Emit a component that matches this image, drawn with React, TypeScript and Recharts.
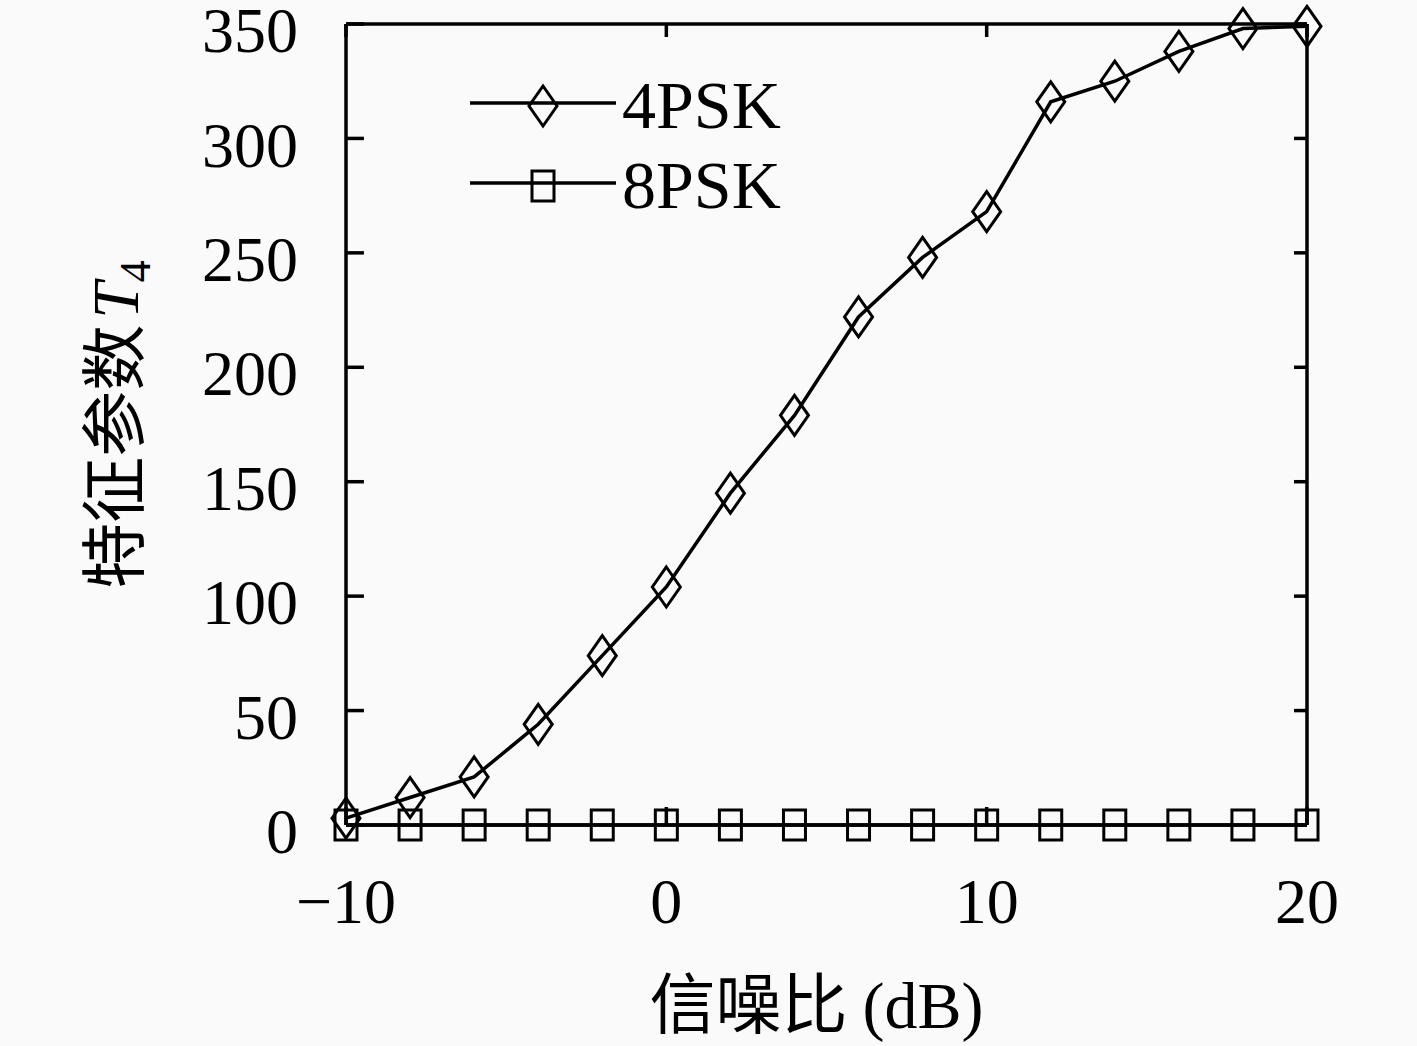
import React from 'react';
import { LineChart, Line, XAxis, YAxis, Legend, Label, ReferenceLine } from 'recharts';

const snrDb = [-10, -8, -6, -4, -2, 0, 2, 4, 6, 8, 10, 12, 14, 16, 18, 20];
const psk4Values = [3, 12, 21, 44, 74, 104, 145, 179, 222, 248, 268, 316, 325, 338, 348, 349];
const psk8Values = [0, 0, 0, 0, 0, 0, 0, 0, 0, 0, 0, 0, 0, 0, 0, 0];
const xTicks = [-10, 0, 10, 20];
const yTicks = [0, 50, 100, 150, 200, 250, 300, 350];
const seriesNames = ['4PSK', '8PSK'];

const data = snrDb.map((snr, i) => ({ snr, psk4: psk4Values[i], psk8: psk8Values[i] }));

const FONT = '"Liberation Serif", "Noto Sans CJK SC", serif';
const CJK = '"Noto Sans CJK SC", "Liberation Serif", serif';
const INK = '#000';
const SW = 3.5;
const X_MIN = -10;
const LEFT_TICK_DB = 0.56; // inward tick length on the left frame, in dB

const diamondPath = (cx: number, cy: number) =>
  `M${cx},${cy - 20} L${cx + 14},${cy} L${cx},${cy + 20} L${cx - 14},${cy} Z`;
const squarePath = (cx: number, cy: number) =>
  `M${cx - 11},${cy - 15} L${cx + 11},${cy - 15} L${cx + 11},${cy + 15} L${cx - 11},${cy + 15} Z`;

const DiamondDot = (props: any) => {
  const { cx, cy, index } = props;
  if (cx == null || cy == null) return <g key={`dd-${index}`} />;
  return <path key={`dd-${index}`} d={diamondPath(cx, cy)} fill="none" stroke={INK} strokeWidth={3} />;
};

const SquareDot = (props: any) => {
  const { cx, cy, index } = props;
  if (cx == null || cy == null) return <g key={`sd-${index}`} />;
  return <path key={`sd-${index}`} d={squarePath(cx, cy)} fill="none" stroke={INK} strokeWidth={3} />;
};

// tick lines only, no label
const NoLabel = () => <g />;

const LeftTick = (props: any) => (
  <text x={props.x} y={props.y} dy="0.44em" textAnchor="end" fontFamily={FONT} fontSize={64} fill={INK}>
    {props.payload.value}
  </text>
);

const LegendBox = () => (
  <svg width={400} height={170} style={{ display: 'block', overflow: 'visible' }}>
    {seriesNames.map((name, i) => {
      const y = 31 + i * 80;
      return (
        <g key={name}>
          <line x1={0} x2={146} y1={y} y2={y} stroke={INK} strokeWidth={SW} />
          <path d={i === 0 ? diamondPath(73, y + 3) : squarePath(73, y + 3)} fill="none" stroke={INK} strokeWidth={3} />
          <text x={152} y={y + 25} fontFamily={FONT} fontSize={68} fill={INK}>
            {name}
          </text>
        </g>
      );
    })}
  </svg>
);

const XTitle = (props: any) => {
  const vb = props.viewBox || { x: 346, y: 825, width: 960 };
  return (
    <text x={vb.x + vb.width / 2 - 10} y={vb.y + 203} textAnchor="middle" fontFamily={CJK} fontSize={66} fill={INK}>
      信噪比 <tspan fontFamily={FONT}>(dB)</tspan>
    </text>
  );
};

const YTitle = (props: any) => {
  const vb = props.viewBox || { x: 0, y: 25, height: 800 };
  const cy = vb.y + vb.height / 2;
  return (
    <text transform={`translate(138, ${cy}) rotate(-90)`} x={0} y={0} textAnchor="middle" fontFamily={CJK} fontSize={66} fill={INK}>
      特征参数<tspan fontFamily={FONT} fontStyle="italic" dx={6}>T</tspan>
      <tspan fontFamily={FONT} fontSize={44} dy={12}>4</tspan>
    </text>
  );
};

const fmtX = (v: number) => (v < 0 ? `\u2212${Math.abs(v)}` : String(v));

const axisLine = { stroke: INK, strokeWidth: SW };
const tickLine = { stroke: INK, strokeWidth: SW };
const labelFont = { fill: INK, fontSize: 64, fontFamily: FONT };

export default function App() {
  return (
    <div style={{ position: 'absolute', left: 0, top: 0, width: 1417, height: 1046, background: '#fafafa' }}>
      <LineChart width={1417} height={1046} data={data} margin={{ top: 24, right: 110, left: 0, bottom: 0 }}>
        {/* labelled axes */}
        <XAxis
          xAxisId="bottom"
          dataKey="snr"
          type="number"
          domain={[-10, 20]}
          ticks={xTicks}
          tickFormatter={fmtX}
          height={221}
          axisLine={axisLine}
          tickLine={false}
          tickSize={0}
          tickMargin={53}
          tick={labelFont}
          label={<Label content={<XTitle />} />}
        />
        <YAxis
          yAxisId="left"
          type="number"
          domain={[0, 350]}
          ticks={yTicks}
          interval={0}
          width={346}
          axisLine={axisLine}
          tickLine={false}
          tickSize={0}
          tickMargin={48}
          tick={LeftTick}
          label={<Label content={<YTitle />} />}
        />
        {/* frame axes, inward ticks */}
        <XAxis
          xAxisId="top"
          orientation="top"
          dataKey="snr"
          type="number"
          domain={[-10, 20]}
          ticks={xTicks}
          height={1}
          axisLine={axisLine}
          tickLine={tickLine}
          tickSize={13}
          tick={NoLabel}
          mirror
        />
        <XAxis
          xAxisId="bottomTicks"
          dataKey="snr"
          type="number"
          domain={[-10, 20]}
          ticks={xTicks}
          height={1}
          axisLine={false}
          tickLine={tickLine}
          tickSize={18}
          tick={NoLabel}
          mirror
        />
        <YAxis
          yAxisId="right"
          orientation="right"
          dataKey="psk4"
          type="number"
          domain={[0, 350]}
          allowDataOverflow
          ticks={yTicks}
          interval={0}
          width={1}
          axisLine={axisLine}
          tickLine={tickLine}
          tickSize={13}
          tick={NoLabel}
          mirror
        />
        {/* inward ticks on the left frame */}
        {yTicks.map((v) => (
          <ReferenceLine
            key={`lt-${v}`}
            xAxisId="bottom"
            yAxisId="left"
            segment={[{ x: X_MIN, y: v }, { x: X_MIN + LEFT_TICK_DB, y: v }]}
            stroke={INK}
            strokeWidth={SW}
            ifOverflow="visible"
          />
        ))}
        <Legend
          content={<LegendBox />}
          wrapperStyle={{ left: 470, top: 72, width: 0, height: 0, overflow: 'visible' }}
        />
        <Line
          xAxisId="bottom"
          yAxisId="left"
          type="linear"
          dataKey="psk8"
          name="8PSK"
          stroke={INK}
          strokeWidth={SW}
          dot={SquareDot}
          activeDot={false}
          isAnimationActive={false}
        />
        <Line
          xAxisId="bottom"
          yAxisId="left"
          type="linear"
          dataKey="psk4"
          name="4PSK"
          stroke={INK}
          strokeWidth={SW}
          dot={DiamondDot}
          activeDot={false}
          isAnimationActive={false}
        />
      </LineChart>
    </div>
  );
}
